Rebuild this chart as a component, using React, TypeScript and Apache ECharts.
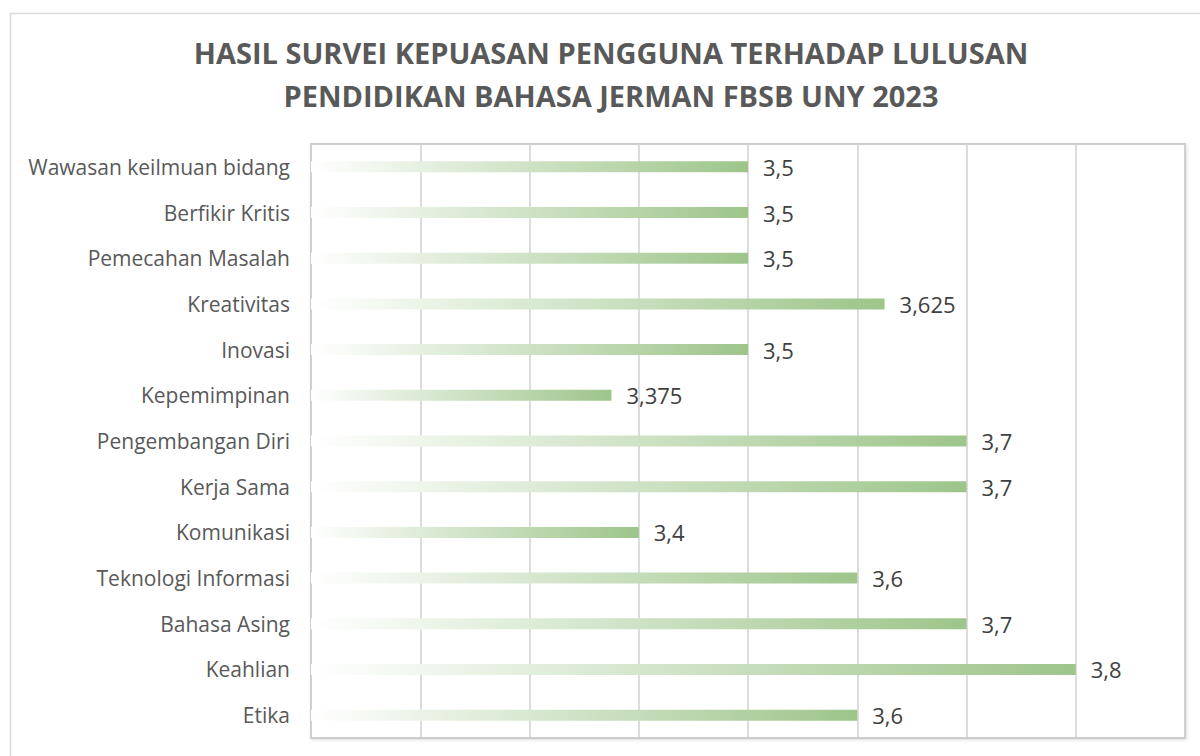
import React, { useEffect, useRef } from "react";
import * as echarts from "echarts";

const titleLines = [
  "HASIL SURVEI KEPUASAN PENGGUNA TERHADAP LULUSAN",
  "PENDIDIKAN BAHASA JERMAN FBSB UNY 2023",
];
const categories = [
  "Wawasan keilmuan bidang",
  "Berfikir Kritis",
  "Pemecahan Masalah",
  "Kreativitas",
  "Inovasi",
  "Kepemimpinan",
  "Pengembangan Diri",
  "Kerja Sama",
  "Komunikasi",
  "Teknologi Informasi",
  "Bahasa Asing",
  "Keahlian",
  "Etika",
];
const values = [3.5, 3.5, 3.5, 3.625, 3.5, 3.375, 3.7, 3.7, 3.4, 3.6, 3.7, 3.8, 3.6];
const axisMin = 3.1;
const axisMax = 3.9;
const axisStep = 0.1;

export default function App() {
  const ref = useRef<HTMLDivElement>(null);
  useEffect(() => {
    document.body.style.margin = "0";
    const chart = echarts.init(ref.current!, null, { renderer: "svg" });
    chart.setOption({
      animation: false,
      backgroundColor: "#ffffff",
      graphic: [
        {
          type: "rect",
          shape: { x: 10.5, y: 13.5, width: 1300, height: 900 },
          style: { fill: "none", stroke: "#d9d9d9", lineWidth: 1.5 },
          silent: true,
          z: -10,
        },
        {
          type: "text",
          x: 611,
          y: 74,
          style: {
            text: titleLines.join("\n"),
            textAlign: "center",
            textVerticalAlign: "middle",
            font: "bold 29px 'Open Sans'",
            lineHeight: 43,
            fill: "#595959",
          },
        },
      ],
      grid: {
        left: 311,
        right: 15,
        top: 144,
        bottom: 18,
        show: true,
        borderColor: "#bfbfbf",
        borderWidth: 1.5,
        shadowColor: "rgba(0,0,0,0.15)",
        shadowBlur: 3,
        shadowOffsetX: 1,
        shadowOffsetY: 1,
        backgroundColor: "#ffffff",
      },
      xAxis: {
        type: "value",
        min: axisMin,
        max: axisMax,
        interval: axisStep,
        startValue: axisMin,
        axisLabel: { show: false },
        axisLine: { show: false },
        axisTick: { show: false },
        splitLine: { lineStyle: { color: "#d0d0d0", width: 1.5 } },
      },
      yAxis: {
        type: "category",
        inverse: true,
        data: categories,
        axisLine: { show: false },
        axisTick: { show: false },
        axisLabel: {
          fontFamily: "Open Sans",
          fontSize: 21,
          color: "#595959",
          margin: 21,
        },
      },
      series: [
        {
          type: "bar",
          data: values,
          barWidth: 11,
          itemStyle: {
            color: new echarts.graphic.LinearGradient(0, 0, 1, 0, [
              { offset: 0, color: "#ffffff" },
              { offset: 1, color: "#9dc58a" },
            ]),
          },
          label: {
            show: true,
            position: "right",
            distance: 15,
            fontFamily: "Open Sans",
            fontSize: 22,
            color: "#404040",
            formatter: (p: any) => String(p.value).replace(".", ","),
          },
        },
      ],
    });
    return () => chart.dispose();
  }, []);
  return <div ref={ref} style={{ width: 1200, height: 756 }} />;
}
